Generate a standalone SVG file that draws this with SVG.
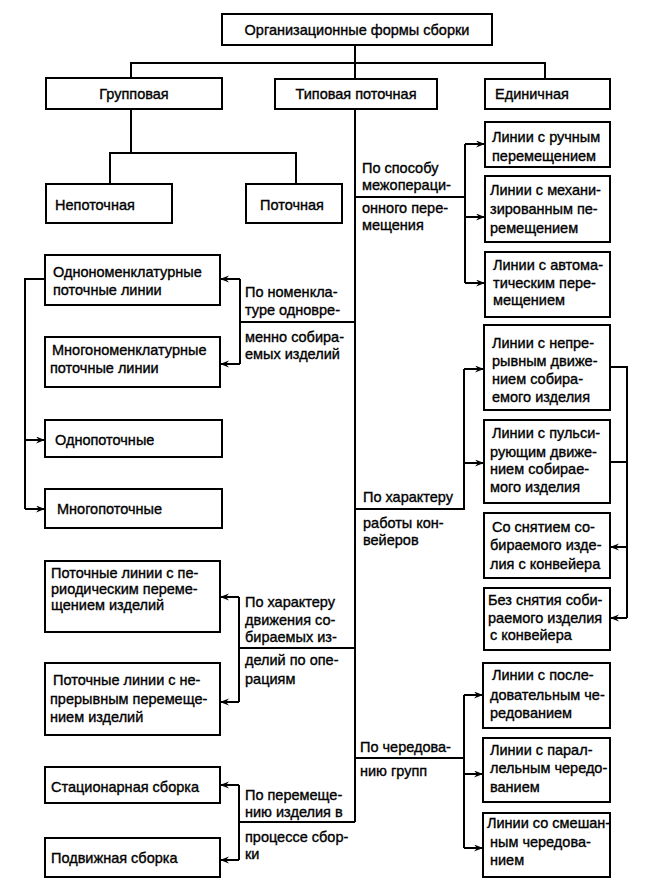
<svg xmlns="http://www.w3.org/2000/svg" width="647" height="892" viewBox="0 0 647 892">
<defs>
<marker id="ah" markerUnits="userSpaceOnUse" markerWidth="10" markerHeight="8" refX="9" refY="3.5" orient="auto">
<path d="M0,0 L9,3.5 L0,7 L3,3.5 z" fill="#000"/>
</marker>
<style>
.b{fill:#fff;stroke:#000;stroke-width:2}
.c{fill:none;stroke:#000;stroke-width:2}
.a{fill:none;stroke:#000;stroke-width:2;marker-end:url(#ah)}
text{font-family:"Liberation Sans",Arial,sans-serif;font-size:14.5px;fill:#000;stroke:#000;stroke-width:0.35}
.m{text-anchor:middle}
</style>
</defs>
<rect width="647" height="892" fill="#fff"/>
<g id="connectors">
<path class="c" d="M355,45 V63 M131,78 V63 H545 V79 M355,63 V822"/>
<path class="c" d="M131,109 V153 M110,184 V153 H296 V184"/>
<path class="c" d="M355,197 H465 M465,144 V283"/>
<path class="a" d="M465,144 H485"/><path class="a" d="M465,217 H485"/><path class="a" d="M465,283 H485"/>
<path class="c" d="M355,322 H240 M240,279 V364"/>
<path class="a" d="M240,279 H220"/><path class="a" d="M240,364 H220"/>
<path class="c" d="M45,279 H25 V509"/>
<path class="a" d="M25,440 H45"/><path class="a" d="M25,509 H45"/>
<path class="c" d="M355,509 H464 V369"/>
<path class="a" d="M464,369 H484"/><path class="a" d="M464,463 H484"/>
<path class="c" d="M610,367 H627 V618 M610,462 H627"/>
<path class="a" d="M627,547 H610"/><path class="a" d="M627,618 H610"/>
<path class="c" d="M355,648 H239 M239,597 V702"/>
<path class="a" d="M239,597 H220"/><path class="a" d="M239,702 H220"/>
<path class="c" d="M355,758 H464 M464,695 V848"/>
<path class="a" d="M464,695 H483"/><path class="a" d="M464,774 H483"/><path class="a" d="M464,848 H483"/>
<path class="c" d="M355,822 H239 M239,785 V860"/>
<path class="a" d="M239,785 H220"/><path class="a" d="M239,860 H220"/>
</g>
<g id="labels">
<text x="362" y="173">По способу</text>
<text x="362" y="190">межопераци-</text>
<text x="362" y="213">онного пере-</text>
<text x="362" y="230">мещения</text>
<text x="245" y="297">По номенкла-</text>
<text x="245" y="315">туре одновре-</text>
<text x="245" y="342">менно собира-</text>
<text x="245" y="359">емых изделий</text>
<text x="363" y="502">По характеру</text>
<text x="363" y="528">работы кон-</text>
<text x="363" y="545">вейеров</text>
<text x="245" y="607">По характеру</text>
<text x="245" y="625">движения со-</text>
<text x="245" y="642">бираемых из-</text>
<text x="245" y="665">делий по опе-</text>
<text x="245" y="684">рациям</text>
<text x="360" y="752">По чередова-</text>
<text x="360" y="776">нию групп</text>
<text x="245" y="800">По перемеще-</text>
<text x="245" y="817">нию изделия в</text>
<text x="245" y="842">процессе сбор-</text>
<text x="245" y="859">ки</text>
</g>
<g id="n0"><rect class="b" x="222" y="14" width="270" height="31"/><text class="m" x="357" y="35">Организационные формы сборки</text></g>
<g id="n1"><rect class="b" x="46" y="78" width="176" height="31"/><text class="m" x="134" y="99">Групповая</text></g>
<g id="n2"><rect class="b" x="275" y="79" width="162" height="30"/><text class="m" x="356" y="99">Типовая поточная</text></g>
<g id="n3"><rect class="b" x="485" y="79" width="125" height="30"/><text x="495" y="99">Единичная</text></g>
<g id="n4"><rect class="b" x="46" y="184" width="126" height="39"/><text x="55" y="210">Непоточная</text></g>
<g id="n5"><rect class="b" x="246" y="184" width="96" height="39"/><text x="260" y="210">Поточная</text></g>
<g id="n6"><rect class="b" x="45" y="255" width="175" height="50"/><text x="53" y="277">Однономенклатурные</text><text x="53" y="295">поточные линии</text></g>
<g id="n7"><rect class="b" x="45" y="337" width="175" height="50"/><text x="52" y="355">Многономенклатурные</text><text x="50" y="373">поточные линии</text></g>
<g id="n8"><rect class="b" x="45" y="420" width="177" height="37"/><text x="55" y="445">Однопоточные</text></g>
<g id="n9"><rect class="b" x="45" y="489" width="177" height="39"/><text x="57" y="514">Многопоточные</text></g>
<g id="n10"><rect class="b" x="45" y="561" width="175" height="71"/><text x="51" y="578">Поточные линии с пе-</text><text x="51" y="594">риодическим переме-</text><text x="51" y="610">щением изделий</text></g>
<g id="n11"><rect class="b" x="45" y="663" width="175" height="72"/><text x="53" y="685">Поточные линии с не-</text><text x="50" y="704">прерывным перемеще-</text><text x="50" y="722">нием изделий</text></g>
<g id="n12"><rect class="b" x="45" y="767" width="175" height="36"/><text x="51" y="792">Стационарная сборка</text></g>
<g id="n13"><rect class="b" x="45" y="838" width="175" height="39"/><text x="51" y="863">Подвижная сборка</text></g>
<g id="n14"><rect class="b" x="485" y="122" width="125" height="45"/><text x="492" y="142">Линии с ручным</text><text x="492" y="161">перемещением</text></g>
<g id="n15"><rect class="b" x="485" y="176" width="125" height="66"/><text x="490" y="195">Линии с механи-</text><text x="490" y="214">зированным пе-</text><text x="490" y="233">ремещением</text></g>
<g id="n16"><rect class="b" x="485" y="252" width="125" height="65"/><text x="493" y="270">Линии с автома-</text><text x="493" y="288">тическим пере-</text><text x="493" y="305">мещением</text></g>
<g id="n17"><rect class="b" x="484" y="325" width="126" height="85"/><text x="492" y="348">Линии с непре-</text><text x="492" y="366">рывным движе-</text><text x="492" y="384">нием собира-</text><text x="492" y="402">емого изделия</text></g>
<g id="n18"><rect class="b" x="484" y="420" width="126" height="83"/><text x="492" y="438">Линии с пульси-</text><text x="490" y="457">рующим движе-</text><text x="490" y="474">нием собирае-</text><text x="490" y="492">мого изделия</text></g>
<g id="n19"><rect class="b" x="484" y="513" width="126" height="65"/><text x="492" y="532">Со снятием со-</text><text x="490" y="550">бираемого изде-</text><text x="490" y="569">лия с конвейера</text></g>
<g id="n20"><rect class="b" x="484" y="588" width="126" height="62"/><text x="488" y="605">Без снятия соби-</text><text x="488" y="623">раемого изделия</text><text x="490" y="640">с конвейера</text></g>
<g id="n21"><rect class="b" x="483" y="663" width="127" height="65"/><text x="492" y="680">Линии с после-</text><text x="490" y="700">довательным че-</text><text x="490" y="718">редованием</text></g>
<g id="n22"><rect class="b" x="483" y="738" width="127" height="64"/><text x="490" y="755">Линии с парал-</text><text x="490" y="773">лельным чередо-</text><text x="490" y="792">ванием</text></g>
<g id="n23"><rect class="b" x="483" y="813" width="127" height="64"/><text x="487" y="828">Линии со смешан-</text><text x="490" y="847">ным чередова-</text><text x="490" y="865">нием</text></g>
</svg>
